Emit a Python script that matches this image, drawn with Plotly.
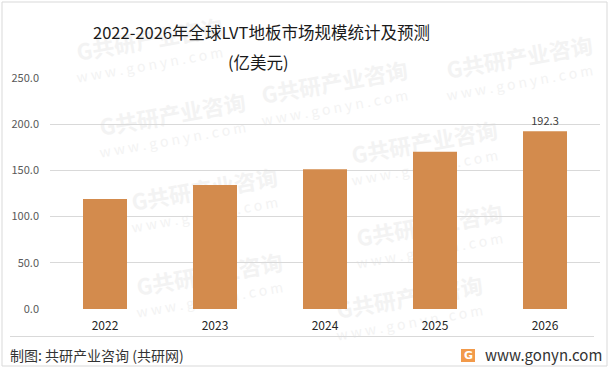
import plotly.graph_objects as go

# ---- data ----
years = ["2022", "2023", "2024", "2025", "2026"]
market_size = [119.0, 134.2, 151.3, 170.2, 192.3]   # 亿美元
title_line1 = "2022-2026年全球LVT地板市场规模统计及预测"
title_line2 = "(亿美元)"
source_text = "制图: 共研产业咨询 (共研网)"
site_text = "www.gonyn.com"
y_ticks = [0, 50, 100, 150, 200, 250]

W, H = 611, 371
L, R, T, B = 50, 11, 78, 62
PW, PH = W - L - R, H - T - B

def px(x):
    return (x - L) / PW

def py(y):
    return (H - B - y) / PH

FONT = "Noto Sans CJK SC, Microsoft YaHei, sans-serif"
WM_COLOR = "#F3F3F3"

labels = [f"{v:.1f}" if i == len(market_size) - 1 else "" for i, v in enumerate(market_size)]

fig = go.Figure()
fig.add_trace(go.Bar(
    x=years, y=market_size,
    marker=dict(color="#D38B4D", line=dict(width=0)),
    text=labels, textposition="outside",
    textfont=dict(size=11, color="#404040", family=FONT),
    cliponaxis=False, hoverinfo="skip",
))

shapes = []
annotations = []

# faint watermarks (below the bars)
wm_centers = [(150, 42), (335, 85), (173, 117), (425, 145), (205, 192), (430, 228),
              (210, 277), (410, 300), (520, 60)]
for cx, cy in wm_centers:
    shapes.append(dict(type="rect", xref="paper", yref="paper", layer="below",
                       x0=px(cx - 90), x1=px(cx + 90), y0=py(cy + 12), y1=py(cy - 12),
                       line=dict(width=0), fillcolor="rgba(0,0,0,0)",
                       label=dict(text="<b>G共研产业咨询</b>", textangle=-10,
                                  textposition="middle center",
                                  font=dict(size=22, color=WM_COLOR, family=FONT))))
    shapes.append(dict(type="rect", xref="paper", yref="paper", layer="below",
                       x0=px(cx - 80), x1=px(cx + 80), y0=py(cy + 34), y1=py(cy + 14),
                       line=dict(width=0), fillcolor="rgba(0,0,0,0)",
                       label=dict(text="w w w . g o n y n . c o m", textangle=-10,
                                  textposition="middle center",
                                  font=dict(size=14, color=WM_COLOR, family=FONT))))

# outer border
shapes.append(dict(type="rect", xref="paper", yref="paper",
                   x0=px(2), x1=px(607), y0=py(366), y1=py(2),
                   line=dict(color="#D9D9D9", width=1), fillcolor="rgba(0,0,0,0)"))
# footer separator
shapes.append(dict(type="line", xref="paper", yref="paper",
                   x0=px(10), x1=px(594), y0=py(336.5), y1=py(336.5),
                   line=dict(color="#D9D9D9", width=1)))
# logo square
shapes.append(dict(type="rect", xref="paper", yref="paper",
                   x0=px(461), x1=px(475), y0=py(362), y1=py(349),
                   line=dict(width=0), fillcolor="#F29A4A"))

annotations.append(dict(text="<b>G</b>", x=px(468), y=py(355.5), xref="paper", yref="paper",
                        showarrow=False, font=dict(size=11, color="white", family="DejaVu Sans"),
                        xanchor="center", yanchor="middle"))

annotations.append(dict(text=title_line1, x=px(261), y=py(32), xref="paper", yref="paper",
                        showarrow=False, font=dict(size=16.5, color="#1A1A1A", family=FONT),
                        xanchor="center", yanchor="middle"))
annotations.append(dict(text=title_line2, x=px(258), y=py(62), xref="paper", yref="paper",
                        showarrow=False, font=dict(size=16.5, color="#1A1A1A", family=FONT),
                        xanchor="center", yanchor="middle"))
annotations.append(dict(text=source_text, x=px(8), y=py(355), xref="paper", yref="paper",
                        showarrow=False, font=dict(size=14, color="#333333", family=FONT),
                        xanchor="left", yanchor="middle"))
annotations.append(dict(text=site_text, x=px(483), y=py(354), xref="paper", yref="paper",
                        showarrow=False, font=dict(size=15, color="#333333", family=FONT),
                        xanchor="left", yanchor="middle"))

fig.update_layout(
    width=W, height=H, autosize=False,
    margin=dict(l=L, r=R, t=T, b=B),
    paper_bgcolor="white", plot_bgcolor="white",
    bargap=0.6, showlegend=False,
    font=dict(family=FONT),
    shapes=shapes, annotations=annotations,
    xaxis=dict(type="category", showline=False, ticks="", showgrid=False,
               tickfont=dict(size=12, color="#262626", family=FONT),
               ticklabelstandoff=8),
    yaxis=dict(range=[0, 250], tickvals=y_ticks, tickformat=".1f",
               showgrid=True, gridcolor="#D9D9D9", gridwidth=1,
               zeroline=False, showline=False, ticks="",
               tickfont=dict(size=11, color="#595959", family=FONT),
               ticklabelstandoff=10),
)

fig.write_html("out.html", config={"displayModeBar": False},
               post_script="document.body.style.margin='0';document.body.style.padding='0';")
